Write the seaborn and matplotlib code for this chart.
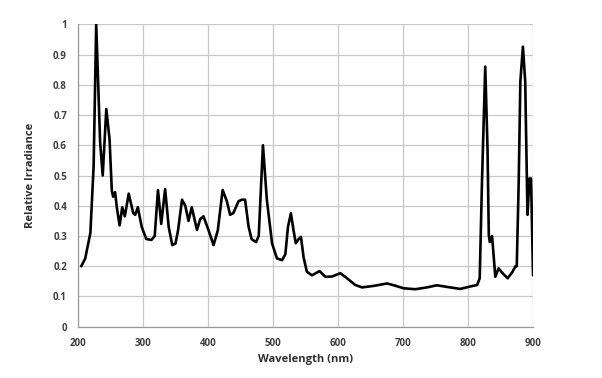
import matplotlib
matplotlib.use("Agg")
import matplotlib.pyplot as plt
import numpy as np
import pandas as pd
import seaborn as sns

# values
wavelength = [205, 211, 219, 224, 228, 234, 238, 243.5, 248.5, 252, 254, 257, 260, 264,
              268, 272, 278, 285, 288, 292, 298, 305, 313, 318, 323, 328, 334, 339.5,
              345, 350, 354, 360, 365, 370, 375, 383, 388, 393, 401, 408.5, 415, 422.5,
              429, 434, 439, 447, 452, 457, 462.5, 467, 470, 474, 478, 484.5, 490.5,
              498.5, 506, 514, 519, 523, 527.5, 531.5, 535, 539.5, 543, 547, 552, 560,
              571.5, 580.5, 591, 603.5, 614, 626.5, 637, 655, 675.5, 686, 701, 719, 737,
              752, 772.5, 788, 803.5, 814, 818, 821.5, 826.5, 830, 832, 833.5, 837, 842,
              847, 854, 861, 868, 873, 875, 878, 880.5, 884.5, 888, 891.5, 894.5, 897, 900]
irradiance = [0.20, 0.225, 0.31, 0.53, 1.00, 0.61, 0.50, 0.72, 0.62, 0.45, 0.43, 0.445, 0.39, 0.335,
              0.395, 0.365, 0.44, 0.375, 0.37, 0.395, 0.33, 0.29, 0.287, 0.30, 0.452, 0.34, 0.455, 0.33,
              0.27, 0.275, 0.32, 0.42, 0.40, 0.35, 0.395, 0.32, 0.356, 0.365, 0.318, 0.27, 0.318, 0.452,
              0.415, 0.37, 0.376, 0.415, 0.42, 0.42, 0.33, 0.29, 0.285, 0.28, 0.30, 0.60, 0.42,
              0.276, 0.226, 0.22, 0.24, 0.33, 0.375, 0.32, 0.276, 0.29, 0.297, 0.23, 0.182, 0.17,
              0.184, 0.165, 0.166, 0.177, 0.16, 0.138, 0.13, 0.135, 0.143, 0.137, 0.127, 0.124, 0.13,
              0.137, 0.13, 0.125, 0.133, 0.138, 0.16, 0.48, 0.86, 0.59, 0.303, 0.28, 0.30, 0.165,
              0.193, 0.175, 0.16, 0.18, 0.20, 0.20, 0.48, 0.81, 0.926, 0.81, 0.37, 0.49, 0.49, 0.17]

x_ticks = [200, 300, 400, 500, 600, 700, 800, 900]
y_ticks = [0, 0.1, 0.2, 0.3, 0.4, 0.5, 0.6, 0.7, 0.8, 0.9, 1.0]
y_tick_labels = ["0", "0.1", "0.2", "0.3", "0.4", "0.5", "0.6", "0.7", "0.8", "0.9", "1"]

df = pd.DataFrame({"Wavelength": wavelength, "Irradiance": irradiance})

sns.set_style("white")
plt.rcParams["font.family"] = ["Open Sans", "DejaVu Sans"]

fig = plt.figure(figsize=(6.02, 3.78), dpi=100)
ax = fig.add_axes([0.1296, 0.1357, 0.7558, 0.8000])

sns.lineplot(data=df, x="Wavelength", y="Irradiance", ax=ax, color="black", linewidth=1.9,
             solid_joinstyle="round", solid_capstyle="round")

ax.set_xlim(200, 900)
ax.set_ylim(0, 1)
ax.set_xticks(x_ticks)
ax.set_yticks(y_ticks)
ax.set_yticklabels(y_tick_labels)
ax.grid(True, color="#c8c8c8", linewidth=0.9)
ax.set_axisbelow(True)

for side in ["top", "right"]:
    ax.spines[side].set_visible(False)
for side in ["left", "bottom"]:
    ax.spines[side].set_color("#9a9a9a")
    ax.spines[side].set_linewidth(0.9)

ax.tick_params(axis="both", direction="out", length=4, width=0.8, color="#9a9a9a",
               labelsize=7, labelcolor="#404040", pad=4)
for lbl in ax.get_xticklabels() + ax.get_yticklabels():
    lbl.set_fontweight("bold")

ax.set_xlabel("Wavelength (nm)", fontsize=8, fontweight="bold", color="#303030", labelpad=4)
ax.set_ylabel("Relative Irradiance", fontsize=8, fontweight="bold", color="#303030", labelpad=12)

fig.savefig("out.png", dpi=100)
